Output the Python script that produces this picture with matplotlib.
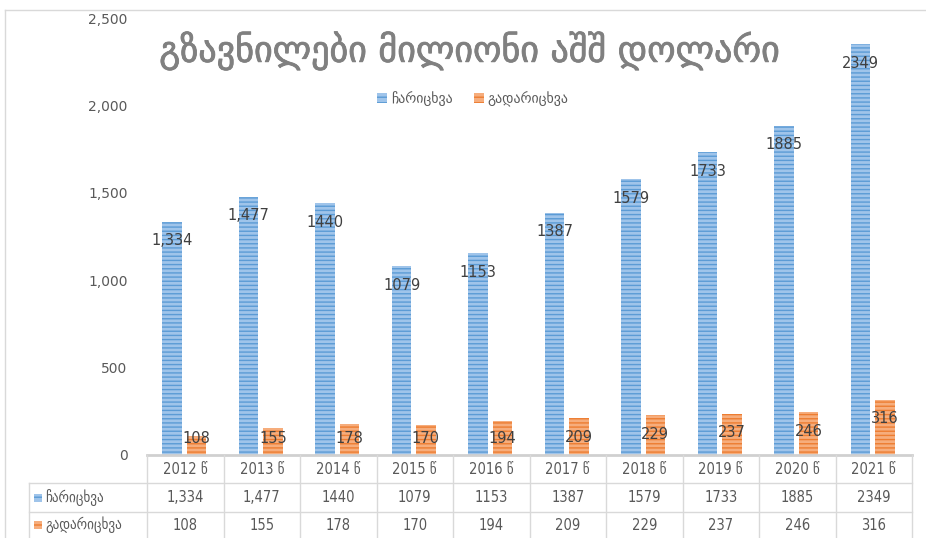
import matplotlib
matplotlib.use("Agg")
import matplotlib.pyplot as plt
import matplotlib.patheffects as pe
from matplotlib.patches import Patch, Rectangle
from matplotlib.lines import Line2D
from matplotlib.transforms import blended_transform_factory
from matplotlib.ticker import FuncFormatter

plt.rcParams['font.family'] = ['DejaVu Sans']

# ---- data ----
years = ['2012 წ', '2013 წ', '2014 წ', '2015 წ', '2016 წ', '2017 წ', '2018 წ', '2019 წ', '2020 წ', '2021 წ']
inflow = [1334, 1477, 1440, 1079, 1153, 1387, 1579, 1733, 1885, 2349]
outflow = [108, 155, 178, 170, 194, 209, 229, 237, 246, 316]
inflow_labels = ['1,334', '1,477', '1440', '1079', '1153', '1387', '1579', '1733', '1885', '2349']
outflow_labels = ['108', '155', '178', '170', '194', '209', '229', '237', '246', '316']
series_names = ['ჩარიცხვა', 'გადარიცხვა']
title = 'გზავნილები მილიონი აშშ დოლარი'

W, H = 926, 538
fig = plt.figure(figsize=(W / 100, H / 100), dpi=100)
fig.patch.set_facecolor('white')

def fx(px):
    return px / W

def fy(py):
    return 1 - py / H

ax_left, ax_right, ax_top, ax_bottom = 147, 912, 18, 455
ax = fig.add_axes([fx(ax_left), fy(ax_bottom), (ax_right - ax_left) / W, (ax_bottom - ax_top) / H])
ax.set_xlim(-0.5, len(years) - 0.5)
ax.set_ylim(0, 2500)

blue_face, blue_line = '#9fc4ea', '#5b9bd5'
orange_face, orange_line = '#f6ad7c', '#ed7d31'
plt.rcParams['hatch.linewidth'] = 1.0

x = list(range(len(years)))
bw = 0.255
xb = [i - 0.17 for i in x]
xo = [i + 0.145 for i in x]
ax.bar(xb, inflow, width=bw, color=blue_face, edgecolor=blue_line, linewidth=0, hatch='----')
ax.bar(xo, outflow, width=bw, color=orange_face, edgecolor=orange_line, linewidth=0, hatch='----')

lab_color = '#404040'
for xi, v, s in zip(xb, inflow, inflow_labels):
    ax.text(xi, max(v - 109, 97), s, ha='center', va='center', fontsize=10.5, color=lab_color)
for xi, v, s in zip(xo, outflow, outflow_labels):
    ax.text(xi, max(v - 109, 97), s, ha='center', va='center', fontsize=10.5, color=lab_color)

for sp in ['top', 'right', 'left']:
    ax.spines[sp].set_visible(False)
ax.spines['bottom'].set_color('#d0d0d0')
ax.spines['bottom'].set_linewidth(2)
ax.set_xticks([])
ax.set_yticks([0, 500, 1000, 1500, 2000, 2500])
ax.yaxis.set_major_formatter(FuncFormatter(lambda v, p: f'{int(v):,}'))
ax.tick_params(axis='y', length=0, pad=14, labelsize=10, labelcolor='#595959')
ax.patch.set_alpha(0)

# title
fig.text(fx(470), fy(51), title, ha='center', va='center', fontsize=26, color='#808080',
         path_effects=[pe.withStroke(linewidth=0.6, foreground='#808080')])

# legend
handles = [Patch(facecolor=blue_face, edgecolor=blue_line, hatch='---', linewidth=0),
           Patch(facecolor=orange_face, edgecolor=orange_line, hatch='---', linewidth=0)]
fig.legend(handles, series_names, loc='center', bbox_to_anchor=(fx(473), fy(99)), ncol=2,
           frameon=False, fontsize=10, labelcolor='#595959', handlelength=0.7, handleheight=0.7,
           handletextpad=0.3, columnspacing=1.5)

# table
grid_c = '#d9d9d9'
row_y = [455, 483, 512, 538]
tleft = 29
def hline(y, x0, x1):
    fig.add_artist(Line2D([fx(x0), fx(x1)], [fy(y), fy(y)], color=grid_c, lw=1))
def vline(xp, y0, y1):
    fig.add_artist(Line2D([fx(xp), fx(xp)], [fy(y0), fy(y1)], color=grid_c, lw=1))

hline(483, tleft, ax_right)
hline(512, tleft, ax_right)
colw = (ax_right - ax_left) / len(years)
for k in range(len(years) + 1):
    vline(ax_left + k * colw, 455, 538)
vline(tleft, 483, 538)

trans = blended_transform_factory(ax.transData, fig.transFigure)
tc = '#595959'
rows = [years, inflow_labels, outflow_labels]
for r, labels in enumerate(rows):
    yc = fy((row_y[r] + row_y[r + 1]) / 2)
    for i, s in enumerate(labels):
        fig.text(i, yc, s, transform=trans, ha='center', va='center', fontsize=10.5,
                 color=tc, fontstretch='condensed')

for r, (name, fc, ec) in enumerate(zip(series_names, [blue_face, orange_face], [blue_line, orange_line])):
    yc = (row_y[r + 1] + row_y[r + 2]) / 2
    fig.add_artist(Rectangle((fx(34), fy(yc + 4)), 8 / W, 8 / H, transform=fig.transFigure,
                             facecolor=fc, edgecolor=ec, hatch='---', linewidth=0))
    fig.text(fx(45), fy(yc), name, ha='left', va='center', fontsize=10.5, color=tc,
             fontstretch='condensed')

# outer frame
fig.add_artist(Line2D([fx(5), fx(926)], [fy(10), fy(10)], color='#d9d9d9', lw=1))
fig.add_artist(Line2D([fx(5), fx(5)], [fy(10), fy(538)], color='#d9d9d9', lw=1))

fig.savefig('out.png', dpi=100)
